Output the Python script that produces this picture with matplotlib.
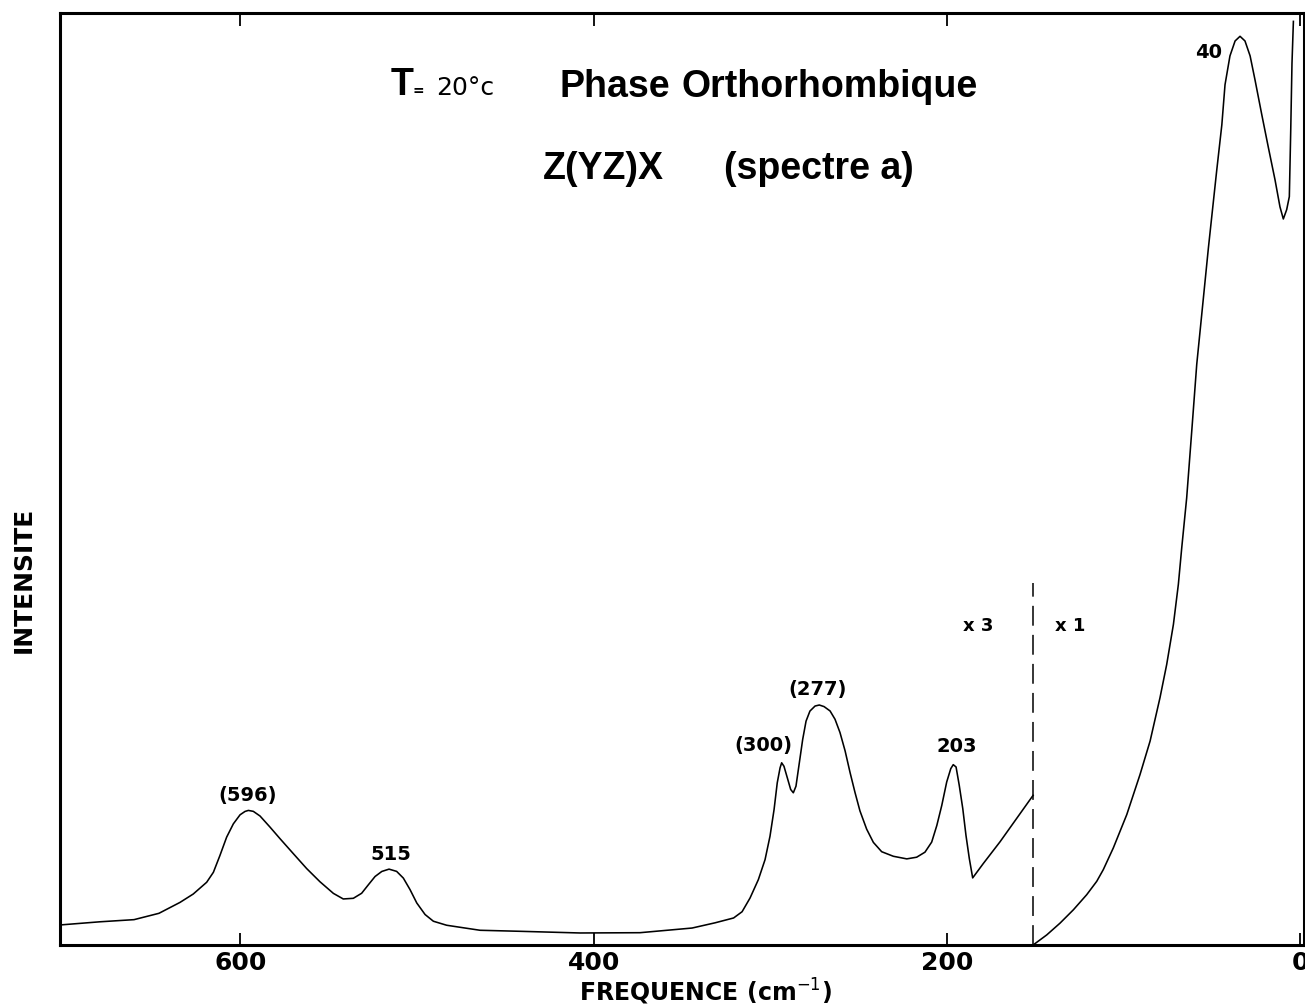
import matplotlib
matplotlib.use("Agg")
import matplotlib.pyplot as plt

W, H = 1305, 1008

# ---- data (wavenumber cm-1, relative intensity 0-100) ----
# segment recorded with gain x3 (high frequencies)
freq_x3 = [702.0, 679.4, 660.1, 646.0, 634.1, 626.6, 619.0, 615.2, 611.5, 607.7,
           603.9, 600.1, 597.3, 595.4, 592.6, 588.8, 583.2, 577.5, 570.0, 562.4,
           554.9, 547.3, 541.7, 536.0, 531.3, 527.5, 523.7, 519.9, 515.8, 511.5,
           507.7, 503.9, 500.1, 495.4, 490.7, 483.2, 473.8, 464.3, 441.7, 407.7,
           373.8, 344.3, 331.3, 320.8, 316.0, 311.5, 306.8, 303.0, 300.2, 297.9,
           296.1, 294.5, 293.6, 292.3, 290.4, 288.5, 287.0, 285.5, 283.6, 281.7,
           279.8, 277.6, 274.7, 272.3, 269.6, 266.2, 263.4, 260.6, 257.7, 254.9,
           252.1, 249.3, 245.5, 241.7, 237.0, 230.4, 222.8, 217.2, 212.5, 208.7,
           205.8, 203.0, 200.2, 197.9, 196.5, 194.9, 193.1, 191.1, 189.3, 187.4,
           185.5, 179.5, 170.0, 151.3]
int_x3 = [2.15, 2.49, 2.72, 3.4, 4.57, 5.47, 6.73, 7.80, 9.60, 11.57,
          13.0, 13.97, 14.33, 14.44, 14.34, 13.84, 12.66, 11.41, 9.81, 8.20,
          6.79, 5.54, 4.94, 5.01, 5.55, 6.46, 7.35, 7.89, 8.14, 7.90,
          7.18, 5.94, 4.51, 3.27, 2.55, 2.12, 1.85, 1.58, 1.47, 1.29,
          1.32, 1.82, 2.38, 2.9, 3.57, 5.04, 7.01, 9.16, 11.67, 14.53,
          17.40, 19.01, 19.55, 19.18, 17.94, 16.69, 16.33, 17.04, 19.55, 22.06,
          24.02, 25.10, 25.64, 25.75, 25.58, 25.11, 24.22, 22.80, 20.83, 18.51,
          16.37, 14.39, 12.43, 11.01, 10.01, 9.52, 9.24, 9.42, 9.96, 11.04,
          12.82, 14.97, 17.49, 18.92, 19.35, 19.10, 17.13, 14.63, 11.77, 9.27,
          7.20, 8.74, 11.08, 16.06]

# segment recorded with gain x1 (low frequencies)
freq_x1 = [151.3, 143.6, 136.1, 128.5, 121.0, 115.3, 111.6, 105.9, 98.3, 90.8,
           85.1, 79.5, 75.7, 71.9, 69.1, 67.2, 64.4, 61.5, 58.7, 55.9,
           52.1, 47.4, 44.5, 42.7, 39.9, 37.0, 34.2, 31.4, 28.5, 25.7,
           21.9, 18.2, 14.4, 11.6, 9.7, 7.8, 6.3, 5.5, 4.8, 4.0]
int_x1 = [0.0, 1.08, 2.34, 3.78, 5.39, 6.83, 8.08, 10.42, 13.99, 18.29,
          21.88, 26.53, 30.1, 34.4, 38.7, 42.6, 47.96, 55.2, 62.3, 67.6,
          74.8, 83.1, 88.0, 92.3, 95.4, 97.0, 97.5, 97.0, 95.4, 92.8,
          89.1, 85.6, 82.1, 79.2, 77.9, 78.9, 80.3, 87.5, 94.6, 99.1]

gain_change = 151.3
gain_line_top = 38.8

peak_labels = ["40", "(596)", "515", "(300)", "(277)", "203"]
gain_labels = ["x 3", "x 1"]
xticks = [600, 400, 200, 0]

# ---- figure ----
fig = plt.figure(figsize=(W / 100, H / 100), dpi=100)
ax = fig.add_axes([60 / W, (H - 945) / H, (1304 - 60) / W, (945 - 13) / H])
ax.set_xlim(702, -2)
ax.set_ylim(0, 100)

ax.plot(freq_x3, int_x3, color="black", lw=1.15, solid_joinstyle="round")
ax.plot(freq_x1, int_x1, color="black", lw=1.15, solid_joinstyle="round")
ax.plot([gain_change, gain_change], [0, gain_line_top], color="black", lw=1.1,
        dashes=(13, 6))

for s in ax.spines.values():
    s.set_linewidth(2.2)
ax.set_yticks([])
ax.set_xticks(xticks)
ax.set_xticklabels([str(t) for t in xticks], fontfamily="DejaVu Sans",
                   fontweight="bold", fontsize=18)
ax.tick_params(axis="x", direction="in", length=9, width=1.3, top=True, pad=4)


def fx(x):
    return x / W


def fy(y):
    return 1 - y / H


# titles
fig.text(fx(391), fy(95), "T", fontfamily="Liberation Sans", fontweight="bold",
         fontsize=27, ha="left", va="baseline")
fig.text(fx(413), fy(95), "=", fontfamily="DejaVu Sans", fontweight="bold",
         fontsize=10, ha="left", va="baseline")
fig.text(fx(436), fy(95), "20°c", fontfamily="DejaVu Sans", fontsize=18,
         ha="left", va="baseline")
fig.text(fx(559), fy(97), "Phase", fontfamily="Liberation Sans", fontweight="bold",
         fontsize=27, ha="left", va="baseline")
fig.text(fx(682), fy(97), "Orthorhombique", fontfamily="Liberation Sans",
         fontweight="bold", fontsize=27, ha="left", va="baseline")
fig.text(fx(543), fy(179), "Z(YZ)X", fontfamily="Liberation Sans", fontweight="bold",
         fontsize=27, ha="left", va="baseline")
fig.text(fx(724), fy(179), "(spectre a)", fontfamily="Liberation Sans",
         fontweight="bold", fontsize=27, ha="left", va="baseline")

# peak labels
lab_pos = [(1209, 52), (248, 795), (391, 855), (763, 745), (818, 690), (957, 747)]
for t, (x, y) in zip(peak_labels, lab_pos):
    fig.text(fx(x), fy(y), t, fontfamily="DejaVu Sans", fontweight="bold",
             fontsize=14, ha="center", va="center")
for t, (x, y) in zip(gain_labels, [(978, 626), (1070, 626)]):
    fig.text(fx(x), fy(y), t, fontfamily="DejaVu Sans", fontweight="bold",
             fontsize=13, ha="center", va="center")

# axis labels
fig.text(fx(24), fy(580), "INTENSITE", fontfamily="DejaVu Sans", fontweight="bold",
         fontsize=18, rotation=90, ha="center", va="center")
fig.text(fx(705), fy(1001), "FREQUENCE (cm$^{-1}$)", fontfamily="DejaVu Sans",
         fontweight="bold", fontsize=17, ha="center", va="baseline")

fig.savefig("out.png", dpi=100)
